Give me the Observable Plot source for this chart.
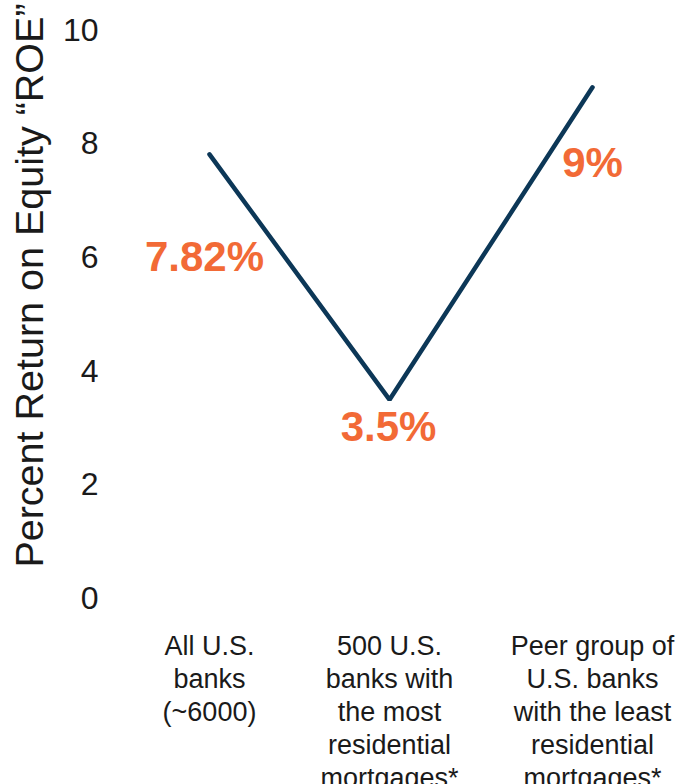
<!DOCTYPE html>
<html>
<head>
<meta charset="utf-8">
<script src="https://cdn.jsdelivr.net/npm/d3@7"></script>
<script src="https://cdn.jsdelivr.net/npm/@observablehq/plot@0.6"></script>
<style>
  html, body { margin: 0; padding: 0; background: #fff; }
</style>
</head>
<body>
<div id="chart"></div>
<script>
const categories = [
  "All U.S.\nbanks\n(~6000)",
  "500 U.S.\nbanks with\nthe most\nresidential\nmortgages*",
  "Peer group of\nU.S. banks\nwith the least\nresidential\nmortgages*"
];
const roeValues = [7.82, 3.5, 9];
const valueLabels = ["7.82%", "3.5%", "9%"];
const yTicks = [0, 2, 4, 6, 8, 10];
const yLabel = "Percent Return on Equity \u201CROE\u201D";

const data = categories.map((c, i) => ({cat: c, roe: roeValues[i], label: valueLabels[i]}));

const font = "'Liberation Sans', Arial, Helvetica, sans-serif";
const orange = "#f26a36";
const navy = "#0c3757";
const ink = "#1a1a1a";

const labelOffsets = [[-5, 103], [-1, 28], [0, 76]];

const chart = Plot.plot({
  width: 678,
  height: 784,
  marginTop: 30,
  marginBottom: 186,
  marginLeft: 110,
  marginRight: 60,
  style: {fontFamily: font, color: ink, background: "#fff"},
  x: {type: "ordinal", domain: categories, range: [209, 389, 592]},
  y: {domain: [0, 10]},
  marks: [
    Plot.axisY({ticks: yTicks, tickSize: 0, tickPadding: 12, fontSize: 32, label: null, fill: ink}),
    Plot.axisX({tickSize: 0, tickPadding: 33, fontSize: 27, lineHeight: 1.22, label: null, fill: ink}),
    Plot.text([yLabel], {frameAnchor: "left", textAnchor: "middle", rotate: -90, dx: -80, dy: -29, fontSize: 39.5, fill: ink}),
    Plot.line(data, {x: "cat", y: "roe", stroke: navy, strokeWidth: 4.5, strokeLinejoin: "miter"}),
    ...data.map((d, i) => Plot.text([d], {
      x: "cat", y: "roe", text: "label",
      dx: labelOffsets[i][0], dy: labelOffsets[i][1],
      fontSize: 42, fontWeight: "bold", fill: orange
    }))
  ]
});
document.getElementById("chart").appendChild(chart);
</script>
</body>
</html>
